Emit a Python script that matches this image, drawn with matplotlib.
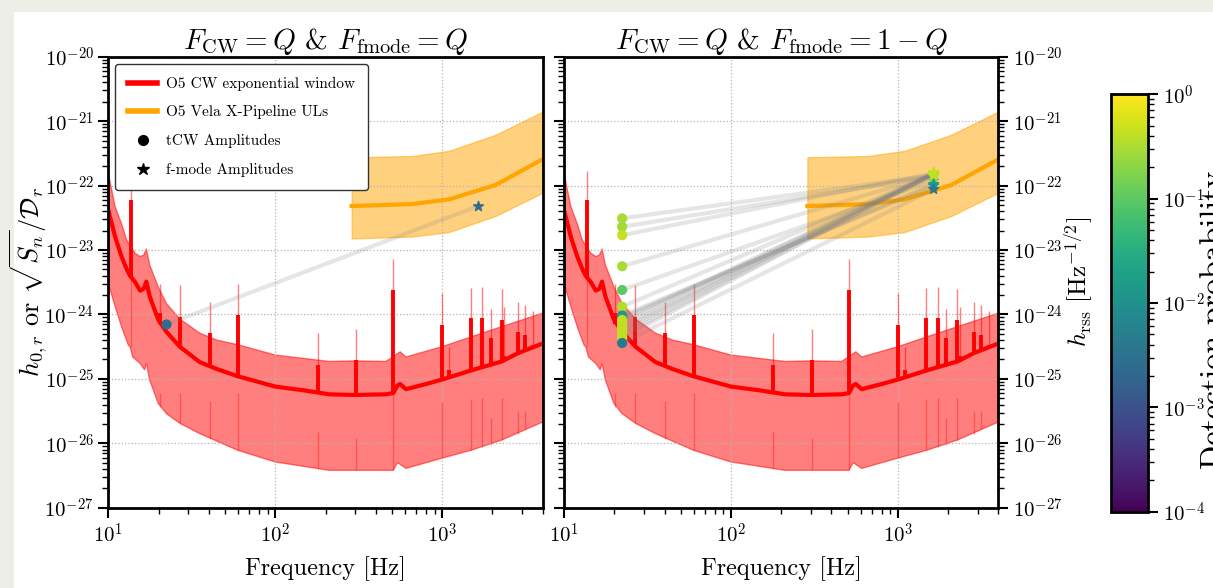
import numpy as np
import matplotlib.pyplot as plt
from matplotlib.colors import LogNorm
from matplotlib.patches import Rectangle
from matplotlib.lines import Line2D
from matplotlib.cm import ScalarMappable
import matplotlib.ticker as mticker

plt.rcParams['font.family'] = 'serif'
plt.rcParams['font.serif'] = ['cmr10']
plt.rcParams['mathtext.fontset'] = 'cm'
plt.rcParams['axes.formatter.use_mathtext'] = True

# O5 CW sensitivity (exponential window), log10 of strain
main_f = [10, 11, 12, 12.9, 13.5, 14.5, 15.5, 16.3, 16.9, 17.7, 19.9, 22.3, 26.8, 35.3,
          45, 59.8, 100, 150, 211, 300, 460, 509, 540, 560, 607, 800, 1000, 1483,
          2270, 2850, 4000]
main_logh = [-22.38, -22.8, -23.1, -23.3, -23.4, -23.5, -23.63, -23.6, -23.49, -23.72,
             -24.08, -24.27, -24.5, -24.74, -24.85, -24.96, -25.12, -25.18, -25.24, -25.25,
             -25.24, -25.22, -25.1, -25.08, -25.16, -25.08, -25.01, -24.87, -24.73, -24.6,
             -24.45]

# upper and lower edges of the shaded window band
band_hi_f = [10, 11, 12, 12.9, 14.5, 15.5, 16.3, 16.9, 17.7, 19.9, 22.3, 26.8, 35.3, 45,
             59.8, 100, 211, 300, 460, 560, 607, 1000, 1483, 2270, 4000]
band_hi_logh = [-21.81, -22.33, -22.59, -22.85, -23.05, -23.1, -23.08, -22.98, -23.23,
                -23.57, -23.83, -24.07, -24.29, -24.4, -24.47, -24.63, -24.73, -24.72,
                -24.73, -24.58, -24.66, -24.5, -24.35, -24.19, -23.98]
band_lo_f = [10, 11, 12, 13.2, 13.5, 14.0, 15.5, 16.5, 16.9, 17.7, 19.9, 22.3, 26.8, 35.3,
             59.8, 100, 211, 305, 509, 540, 607, 1000, 1483, 2270, 4000]
band_lo_logh = [-23.52, -23.88, -24.19, -24.48, -24.5, -24.66, -24.76, -24.86, -24.76,
                -25.02, -25.38, -25.54, -25.69, -25.85, -26.11, -26.29, -26.42, -26.42,
                -26.42, -26.3, -26.39, -26.23, -26.11, -25.95, -25.67]

# instrumental lines: frequency, curve level, line top, faint line top
line_f = [13.7, 20.3, 26.8, 40.5, 59.8, 179.5, 305, 509, 1000, 1100, 1483, 1739, 1950,
          2270, 2350, 2850, 3155, 3500]
line_base = [-23.4, -24.15, -24.5, -24.8, -24.96, -25.2, -25.25, -25.22, -25.01, -24.98,
             -24.87, -24.83, -24.8, -24.73, -24.72, -24.6, -24.55, -24.5]
line_top = [-22.22, -23.98, -24.04, -24.29, -24.01, -24.79, -24.71, -23.62, -24.16, -24.86,
            -24.06, -24.05, -24.37, -24.08, -24.65, -24.28, -24.32, -24.47]
line_faint = [-21.78, -23.52, -23.54, -23.8, -23.53, -24.29, -24.23, -23.14, -23.66, -24.5,
              -23.59, -23.57, -23.91, -23.6, -23.88, -23.8, -23.85, -23.95]
# lines reaching into the band from its lower edge
low_line_f = [13.7, 20.3, 26.8, 40.5, 59.8, 179.5, 305, 509, 1000, 1483, 1739, 1950, 2270,
              2850, 3155]
low_line_base = [-24.5, -25.44, -25.69, -25.93, -26.11, -26.4, -26.42, -26.42, -26.23,
                 -26.11, -26.06, -26.02, -25.95, -25.85, -25.78]
low_line_top = [-23.4, -25.22, -25.22, -25.35, -25.22, -25.82, -25.92, -25.22, -25.36,
                -25.31, -25.3, -25.6, -25.3, -25.5, -25.5]

# O5 Vela X-Pipeline upper limits
ul_f = [287, 664, 1099, 2090, 4000]
ul_mid = [-22.317, -22.286, -22.213, -21.99, -21.59]
ul_hi = [-21.56, -21.54, -21.46, -21.21, -20.85]
ul_lo = [-22.82, -22.79, -22.72, -22.47, -22.11]

f_tcw = 22.3
f_fmode = 1637

# F_CW = Q & F_fmode = Q
left_tcw_h = [7.0e-25]
left_fmode_h = [4.8e-23]
left_prob = [2.5e-3]

# F_CW = Q & F_fmode = 1 - Q
right_tcw_h = [3.1e-23, 2.3e-23, 1.7e-23, 5.6e-24, 2.4e-24, 1.32e-24, 9.6e-25, 9.0e-25,
               8.2e-25, 7.4e-25, 6.6e-25, 6.0e-25, 5.4e-25, 4.8e-25, 4.3e-25, 3.6e-25]
right_fmode_h = [1.45e-22, 1.4e-22, 1.55e-22, 1.45e-22, 1.2e-22, 1.5e-22, 1.0e-22,
                 1.05e-22, 1.5e-22, 1.55e-22, 1.5e-22, 1.45e-22, 1.6e-22, 1.5e-22,
                 1.55e-22, 8.8e-23]
right_prob = [0.3, 0.28, 0.45, 0.3, 0.1, 0.35, 0.012, 0.015, 0.4, 0.45, 0.42, 0.4, 0.45,
              0.4, 0.42, 0.004]

norm = LogNorm(1e-4, 1)
cmap = 'viridis'

W, H = 1213, 588
fig = plt.figure(figsize=(W / 100, H / 100), dpi=100, facecolor='#eeeee9')
fig.add_artist(Rectangle((14 / W, 0), 1, 1 - 12 / H, transform=fig.transFigure,
                         facecolor='white', edgecolor='none', zorder=-10))

ax1 = fig.add_axes([108.3 / W, (H - 507.7) / H, 434.4 / W, 450.9 / H])
ax2 = fig.add_axes([564 / W, (H - 507.7) / H, 434.4 / W, 450.9 / H])
cax = fig.add_axes([1111 / W, (H - 511.7) / H, 37 / W, 417.4 / H])

pow10 = lambda v: 10 ** np.asarray(v, dtype=float)
dec_fmt = mticker.FuncFormatter(lambda v, p: r'$10^{%d}$' % round(np.log10(v)))


def draw_panel(ax, tcw_h, fmode_h, prob):
    ax.set_xscale('log')
    ax.set_yscale('log')
    poly_f = np.concatenate([band_hi_f, band_lo_f[::-1]])
    poly_h = np.concatenate([pow10(band_hi_logh), pow10(band_lo_logh)[::-1]])
    ax.fill(poly_f, poly_h, facecolor=(1, 0, 0, 0.5), edgecolor=(1, 0, 0, 0.5), lw=1)
    ax.vlines(low_line_f, pow10(low_line_base), pow10(low_line_top), color='red', alpha=0.35, lw=1)
    ax.vlines(line_f, pow10(line_base), pow10(line_faint), color='red', alpha=0.5, lw=1)
    ax.plot(main_f, pow10(main_logh), color='red', lw=3)
    ax.vlines(line_f, pow10(line_base), pow10(line_top), color='red', lw=2.8)

    ax.fill_between(ul_f, pow10(ul_lo), pow10(ul_hi), color='orange', alpha=0.5, lw=1)
    ax.plot(ul_f, pow10(ul_mid), color='orange', lw=3)

    for a, b in zip(tcw_h, fmode_h):
        ax.plot([f_tcw, f_fmode], [a, b], color='gray', alpha=0.2, lw=3, zorder=4)
    ax.scatter([f_tcw] * len(tcw_h), tcw_h, c=prob, cmap=cmap, norm=norm, s=40, zorder=5)
    ax.scatter([f_fmode] * len(fmode_h), fmode_h, c=prob, cmap=cmap, norm=norm,
               marker='*', s=55, zorder=5)

    ax.set_xlim(10, 4000)
    ax.set_ylim(1e-27, 1e-20)
    ax.yaxis.set_major_locator(mticker.LogLocator(base=10, numticks=20))
    ax.yaxis.set_minor_locator(mticker.LogLocator(base=10, subs=np.arange(2, 10), numticks=20))
    ax.xaxis.set_major_formatter(dec_fmt)
    ax.yaxis.set_major_formatter(dec_fmt)
    ax.yaxis.set_minor_formatter(mticker.NullFormatter())
    ax.grid(True, which='major', ls=':', color='#b5b5b5', lw=0.9)
    ax.tick_params(which='major', direction='out', length=7, width=1.5, labelsize=15)
    ax.tick_params(which='minor', direction='out', length=4, width=1.0)
    for s in ax.spines.values():
        s.set_linewidth(2)
    ax.set_xlabel('Frequency [Hz]', fontsize=17.5, labelpad=7)


draw_panel(ax1, left_tcw_h, left_fmode_h, left_prob)
draw_panel(ax2, right_tcw_h, right_fmode_h, right_prob)

ax1.set_title(r'$F_{\rm CW} = Q$ & $F_{\rm fmode} = Q$', fontsize=21, pad=3)
ax2.set_title(r'$F_{\rm CW} = Q$ & $F_{\rm fmode} = 1 - Q$', fontsize=21, pad=3)
ax1.set_ylabel(r'$h_{0,r}$ or $\sqrt{S_n}/\mathcal{D}_r$', fontsize=19)
ax1.yaxis.set_label_coords(-0.137, 0.5)

ax2.yaxis.set_label_position('right')
ax2.tick_params(axis='y', which='both', left=True, right=True, labelleft=False, labelright=True)
ax2.set_ylabel(r'$h_{\rm rss}$ [Hz$^{-1/2}$]', fontsize=18, labelpad=0)

handles = [Line2D([], [], color='red', lw=4),
           Line2D([], [], color='orange', lw=4),
           Line2D([], [], color='black', marker='o', ls='none', markersize=7),
           Line2D([], [], color='black', marker='*', ls='none', markersize=9)]
labels = ['O5 CW exponential window', 'O5 Vela X-Pipeline ULs',
          'tCW Amplitudes', 'f-mode Amplitudes']
leg = ax1.legend(handles, labels, loc='upper left', fontsize=11, framealpha=1,
                 edgecolor='#333333', fancybox=True, labelspacing=0.95, borderpad=0.85,
                 handlelength=1.9, handletextpad=0.6, borderaxespad=0.45)
leg.get_frame().set_linewidth(1)

cbar = fig.colorbar(ScalarMappable(norm=norm, cmap=cmap), cax=cax)
cbar.ax.yaxis.set_major_formatter(dec_fmt)
cbar.ax.tick_params(which='major', direction='out', length=7, width=1.5, labelsize=15)
cbar.ax.tick_params(which='minor', direction='out', length=4, width=1.0)
cbar.outline.set_linewidth(2)
cbar.set_label('Detection probability', fontsize=23)
cbar.ax.yaxis.set_label_coords(2.42, 0.46)

fig.savefig('out.png', dpi=100, facecolor=fig.get_facecolor())
